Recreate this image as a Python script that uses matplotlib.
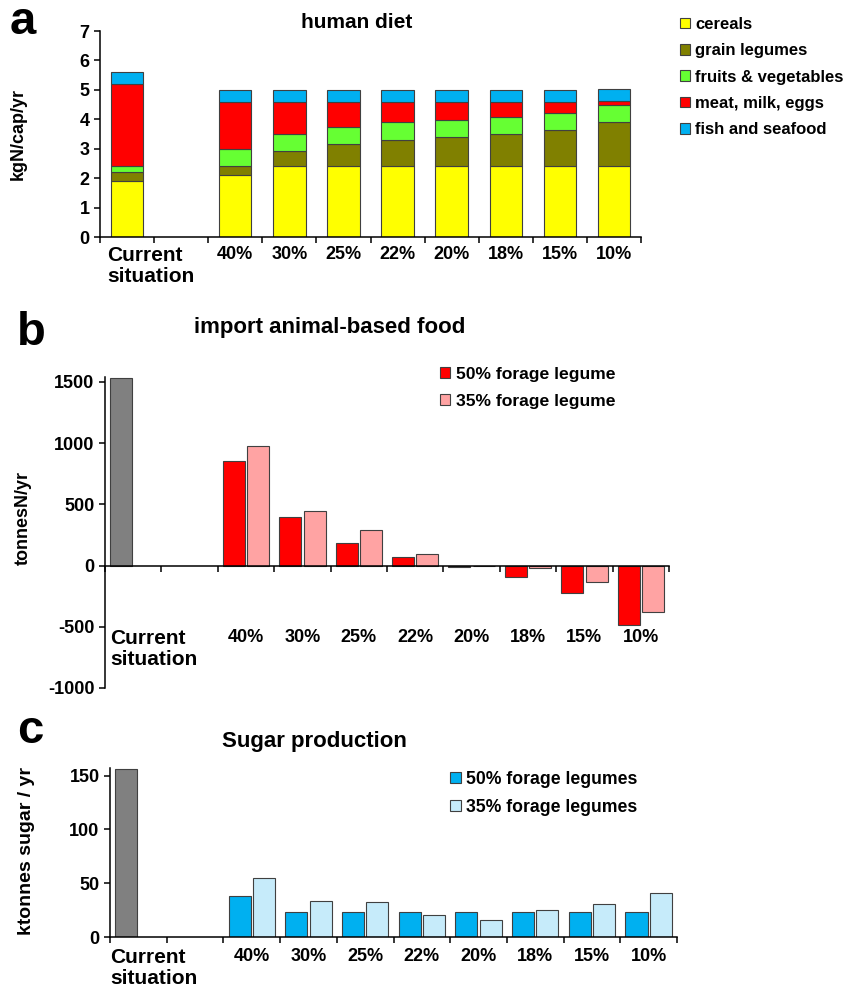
import numpy as np
import matplotlib
matplotlib.use('Agg')
import matplotlib.pyplot as plt
from matplotlib.transforms import blended_transform_factory

plt.rcParams['font.family'] = ['Liberation Sans', 'DejaVu Sans']
plt.rcParams['font.weight'] = 'bold'
plt.rcParams['axes.unicode_minus'] = False

# categories (slot 1 is an empty gap in the original chart)
current_label = 'Current\nsituation'
scenarios = ['40%', '30%', '25%', '22%', '20%', '18%', '15%', '10%']

# a: human diet, kgN/cap/yr (first value = current situation)
diet_names = ['cereals', 'grain legumes', 'fruits & vegetables', 'meat, milk, eggs', 'fish and seafood']
cereals = [1.9, 2.1, 2.4, 2.4, 2.4, 2.4, 2.4, 2.4, 2.4]
grain_legumes = [0.3, 0.3, 0.52, 0.75, 0.9, 1.0, 1.1, 1.24, 1.5]
fruits_veg = [0.2, 0.6, 0.58, 0.6, 0.6, 0.57, 0.59, 0.58, 0.6]
meat_milk_eggs = [2.8, 1.6, 1.1, 0.85, 0.7, 0.63, 0.51, 0.38, 0.12]
fish_seafood = [0.4, 0.4, 0.4, 0.4, 0.4, 0.4, 0.4, 0.4, 0.4]
diet_colors = ['#FFFF00', '#808000', '#66FF33', '#FF0000', '#00B0F0']

# b: import animal-based food, tonnesN/yr
import_current = 1530
import_50 = [855, 395, 188, 71, -10, -93, -223, -485]
import_35 = [978, 444, 292, 95, -3, -16, -131, -381]

# c: sugar production, ktonnes sugar / yr
sugar_current = 156
sugar_50 = [38, 23, 23, 23, 23, 23, 23, 23]
sugar_35 = [55, 33, 32.5, 20, 16, 25.5, 31, 41]

W, H = 858, 990
fig = plt.figure(figsize=(W / 100, H / 100), dpi=100)


def px_axes(left, right, top, bottom):
    return fig.add_axes([left / W, 1 - bottom / H, (right - left) / W, (bottom - top) / H])


def style(ax):
    for s in ['top', 'right']:
        ax.spines[s].set_visible(False)
    for s in ['left', 'bottom']:
        ax.spines[s].set_linewidth(1.1)
    ax.set_xlim(-0.5, 9.5)
    ax.set_xticks([])
    ax.set_xticks(np.arange(-0.5, 10, 1), minor=True)
    ax.tick_params(axis='x', which='minor', direction='out', length=4, width=1.1)
    ax.tick_params(axis='y', direction='out', length=4, width=1.1, labelsize=13)


def xlabels(ax, yfrac, dx):
    tr = blended_transform_factory(ax.transData, ax.transAxes)
    ax.annotate(current_label, xy=(-0.5, yfrac), xycoords=tr, xytext=(dx, 0),
                textcoords='offset points', ha='left', va='top', fontsize=15,
                linespacing=1.1, annotation_clip=False)
    for i, lab in enumerate(scenarios):
        ax.annotate(lab, xy=(i + 2, yfrac), xycoords=tr, ha='center', va='top',
                    fontsize=13, annotation_clip=False)


def legend(ax, x, y, size, spacing=0.68):
    ax.legend(loc='upper left', bbox_to_anchor=(x / W, 1 - y / H), bbox_transform=fig.transFigure,
              frameon=False, fontsize=size, handlelength=0.6, handleheight=0.6,
              handletextpad=0.3, labelspacing=spacing, borderpad=0, borderaxespad=0)


pos = np.array([0] + list(range(2, 10)))
edge = dict(edgecolor='#404040', linewidth=0.8)

# ---- a ----
ax1 = px_axes(100, 641, 31, 237)
style(ax1)
bottom = np.zeros(len(pos))
for vals, name, col in zip([cereals, grain_legumes, fruits_veg, meat_milk_eggs, fish_seafood],
                           diet_names, diet_colors):
    ax1.bar(pos, vals, 0.6, bottom=bottom, color=col, label=name, **edge)
    bottom += np.array(vals)
ax1.set_ylim(0, 7)
ax1.set_yticks(range(8))
ax1.set_ylabel('kgN/cap/yr', fontsize=13, fontweight='bold')
ax1.yaxis.set_label_coords(-0.135, 0.5)
xlabels(ax1, -0.044, 5)
legend(ax1, 680, 17, 12)

# ---- b ----
ax2 = px_axes(105, 669, 377, 688)
style(ax2)
ax2.spines['bottom'].set_position(('data', 0))
off, bw = 0.215, 0.39
ax2.bar([0 - off], [import_current], bw, color='#808080', **edge)
ax2.bar(pos[1:] - off, import_50, bw, color='#FF0000', label='50% forage legume', **edge)
ax2.bar(pos[1:] + off, import_35, bw, color='#FFA3A3', label='35% forage legume', **edge)
ax2.set_ylim(-1000, 1540)
ax2.set_yticks(range(-1000, 1501, 500))
ax2.set_ylabel('tonnesN/yr', fontsize=13, fontweight='bold')
ax2.yaxis.set_label_coords(-0.13, 0.547)
xlabels(ax2, 0.189, 4)
legend(ax2, 440, 367, 12.6)

# ---- c ----
ax3 = px_axes(110, 677, 768, 937)
style(ax3)
ax3.bar([0 - off], [sugar_current], bw, color='#808080', **edge)
ax3.bar(pos[1:] - off, sugar_50, bw, color='#00B0F0', label='50% forage legumes', **edge)
ax3.bar(pos[1:] + off, sugar_35, bw, color='#C6EBFA', label='35% forage legumes', **edge)
ax3.set_ylim(0, 157)
ax3.set_yticks([0, 50, 100, 150])
ax3.set_ylabel('ktonnes sugar / yr', fontsize=14, fontweight='bold')
ax3.yaxis.set_label_coords(-0.132, 0.51)
xlabels(ax3, -0.067, 0)
legend(ax3, 450, 771, 12.7, spacing=0.6)

# titles and panel letters
fig.text(357 / W, 1 - 22 / H, 'human diet', ha='center', va='center', fontsize=15)
fig.text(330 / W, 1 - 327 / H, 'import animal-based food', ha='center', va='center', fontsize=16)
fig.text(314 / W, 1 - 742 / H, 'Sugar production', ha='center', va='center', fontsize=16)
fig.text(10 / W, 1 - 34 / H, 'a', fontsize=34, va='baseline')
fig.text(17 / W, 1 - 345 / H, 'b', fontsize=34, va='baseline')
fig.text(17 / W, 1 - 743 / H, 'c', fontsize=34, va='baseline')

fig.savefig('out.png', dpi=100)
